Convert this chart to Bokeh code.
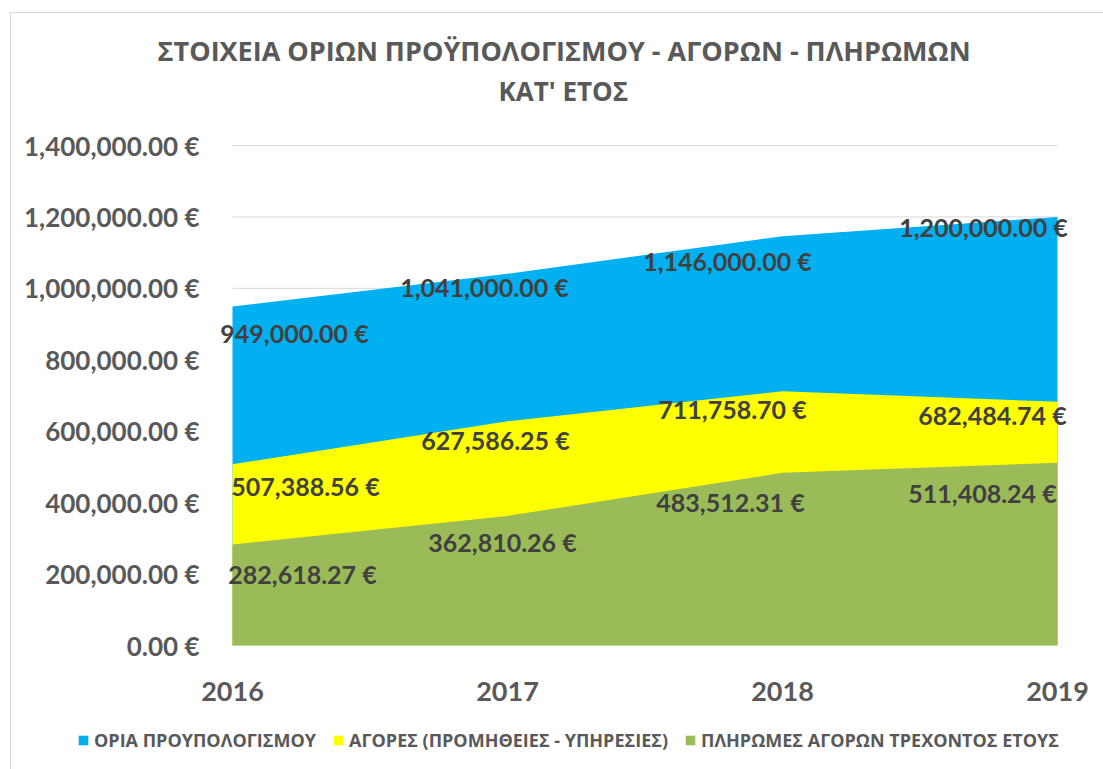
from bokeh.plotting import figure
from bokeh.models import (Range1d, FixedTicker, CustomJSTickFormatter, Legend, LegendItem,
                          Title, ColumnDataSource)
from bokeh.core.properties import value
from bokeh.embed import file_html
from bokeh.resources import INLINE

# ---- data ----
years = [2016, 2017, 2018, 2019]
budget_limits = [949000.00, 1041000.00, 1146000.00, 1200000.00]
purchases = [507388.56, 627586.25, 711758.70, 682484.74]
payments = [282618.27, 362810.26, 483512.31, 511408.24]
series_names = ["ΟΡΙΑ ΠΡΟΥΠΟΛΟΓΙΣΜΟΥ", "ΑΓΟΡΕΣ (ΠΡΟΜΗΘΕΙΕΣ - ΥΠΗΡΕΣΙΕΣ)",
                "ΠΛΗΡΩΜΕΣ ΑΓΟΡΩΝ ΤΡΕΧΟΝΤΟΣ ΕΤΟΥΣ"]
y_ticks = [0, 200000, 400000, 600000, 800000, 1000000, 1200000, 1400000]
title_lines = ["ΣΤΟΙΧΕΙΑ ΟΡΙΩΝ ΠΡΟΫΠΟΛΟΓΙΣΜΟΥ - ΑΓΟΡΩΝ - ΠΛΗΡΩΜΩΝ", "ΚΑΤ' ΕΤΟΣ"]

# ---- styles ----
colors = ["#00B0F0", "#FFFF00", "#9BBB59"]
label_dx = [[62, -23, -55, -74], [73, -12, -50, -65], [70, -5, -52, -75]]
label_dy = [[26, 13, 25, 10], [22, 19, 18, 13], [29, 26, 29, 30]]
NUM_FONT = "Lato"
GR_FONT = "Open Sans"
TEXT_DARK = "#404040"
TEXT_GREY = "#595959"
EDGE = "#D9D9D9"

W, H = 1103, 769
LEG_H = 57                 # height of the legend strip under the chart
MAIN_H = H - LEG_H
# pixel positions of the data extremes in the reference
X0PX, X1PX, Y0PX, Y1PX = 232, 1057, 645, 145
# frame edges (a little wider than the data so the value labels are not clipped)
FL, FR, FT = 214, 1080, 140
pxx = (X1PX - X0PX) / (years[-1] - years[0])
pxy = (Y0PX - Y1PX) / (y_ticks[-1] - y_ticks[0])
x_start = years[0] - (X0PX - FL) / pxx
x_end = years[-1] + (FR - X1PX) / pxx
y_end = y_ticks[-1] + (Y1PX - FT) / pxy

# thin chart-area border (left and top edges) drawn as CSS background
main_bg = (f"linear-gradient({EDGE},{EDGE}) 10px 12px / 1px 100% no-repeat, "
           f"linear-gradient({EDGE},{EDGE}) 10px 12px / 100% 1px no-repeat, white")
strip_bg = f"linear-gradient({EDGE},{EDGE}) 10px 0px / 1px 100% no-repeat, white"

p = figure(width=W, height=MAIN_H, output_backend="svg", toolbar_location=None,
           x_range=Range1d(x_start, x_end), y_range=Range1d(0, y_end),
           min_border_left=FL, min_border_right=W - FR, min_border_top=FT,
           min_border_bottom=MAIN_H - Y0PX)
p.background_fill_color = "white"
p.border_fill_color = None
p.styles = {"background": main_bg}
p.outline_line_color = None
p.xgrid.grid_line_color = None
p.ygrid.grid_line_color = None

# gridlines only across the data span
p.segment(x0=[years[0]] * len(y_ticks), x1=[years[-1]] * len(y_ticks), y0=y_ticks, y1=y_ticks,
          line_color=EDGE, line_width=1)

p.yaxis.ticker = FixedTicker(ticks=y_ticks)
p.yaxis.formatter = CustomJSTickFormatter(code="""
return tick.toLocaleString('en-US', {minimumFractionDigits: 2, maximumFractionDigits: 2}) + ' €';
""")
p.xaxis.ticker = FixedTicker(ticks=years)
p.xaxis.formatter = CustomJSTickFormatter(code="return String(tick);")
for ax in (p.xaxis, p.yaxis):
    ax.axis_line_color = None
    ax.major_tick_line_color = None
    ax.minor_tick_line_color = None
    ax.major_label_text_font = NUM_FONT
    ax.major_label_text_font_style = "bold"
    ax.major_label_text_color = TEXT_GREY
p.yaxis.major_label_text_font_size = "26px"
p.yaxis.major_label_standoff = 9
p.xaxis.major_label_text_font_size = "27px"
p.xaxis.major_label_standoff = 30

for vals, col in zip([budget_limits, purchases, payments], colors):
    p.varea(x=years, y1=[0] * len(years), y2=vals, fill_color=col)

for vals, dx, dy in zip([budget_limits, purchases, payments], label_dx, label_dy):
    src = ColumnDataSource(dict(x=years, y=vals,
                                t=[f"{v:,.2f} €" for v in vals],
                                dx=dx, dy=dy))
    p.text(x="x", y="y", text="t", x_offset="dx", y_offset="dy", source=src,
           text_font=value(NUM_FONT), text_font_style="bold",
           text_font_size="25px", text_color=TEXT_DARK,
           text_align="center", text_baseline="middle")

# title: spacer nearest the frame, then the two lines
p.add_layout(Title(text=" ", text_font_size="10px", standoff=18), "above")
p.add_layout(Title(text=title_lines[1], align="left", offset=284,
                   text_font=GR_FONT, text_font_style="bold", text_font_size="26px",
                   text_color=TEXT_GREY, standoff=2), "above")
p.add_layout(Title(text=title_lines[0], align="left", offset=-57,
                   text_font=GR_FONT, text_font_style="bold", text_font_size="27px",
                   text_color=TEXT_GREY, standoff=2), "above")

# legend strip: a second page root whose frame covers the whole strip
lg = figure(width=W, height=LEG_H, output_backend="svg", toolbar_location=None,
            x_range=Range1d(0, W), y_range=Range1d(0, LEG_H),
            min_border=0, x_axis_type=None, y_axis_type=None)
lg.background_fill_color = None
lg.border_fill_color = None
lg.styles = {"background": strip_bg}
lg.outline_line_color = None
lg.grid.visible = False
# legend proxies carry the series but lie outside this strip's visible range
proxies = [lg.varea(x=years, y1=[0] * len(years), y2=vals, fill_color=c)
           for vals, c in zip([budget_limits, purchases, payments], colors)]
legend = Legend(items=[LegendItem(label=n, renderers=[r]) for n, r in zip(series_names, proxies)],
                orientation="horizontal", location=(77, 17),
                label_text_font=GR_FONT, label_text_font_size="18px",
                label_text_font_style="bold",
                label_text_color=TEXT_GREY, glyph_width=12, glyph_height=12,
                label_standoff=5, spacing=16, padding=0, margin=0,
                border_line_color=None, background_fill_alpha=0, label_height=12)
lg.add_layout(legend, "center")

open("out.html", "w").write(file_html([p, lg], INLINE))
